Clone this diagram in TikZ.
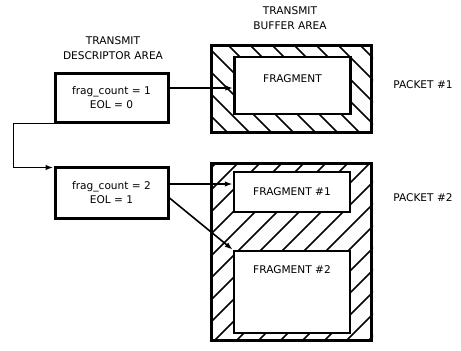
\documentclass[tikz,border=0pt]{standalone}
\usepackage{fontspec}
\setmainfont{DejaVu Sans}
\usetikzlibrary{arrows.meta}
\tikzset{
  every node/.style={font=\fontsize{10.6}{14}\selectfont},
  desc/.style={draw, line width=3pt, minimum width=113pt, minimum height=49pt,
    align=center},
  buffer/.style={draw, line width=3pt, minimum width=160pt},
  frag/.style={draw, line width=2.5pt, fill=white, minimum width=116pt},
  hatchline/.style={line width=1.5pt},
  arr/.style={line width=1.6pt, -{Latex[length=8pt,width=5.5pt]}},
  heading/.style={align=center, font=\fontsize{10.6}{15}\selectfont}
}
\begin{document}
\begin{tikzpicture}[x=1pt, y=-1pt]
    \useasboundingbox (0,0) rectangle (461,351);

    % headings
    \node[heading] (desctitle) at (113,48.5) {TRANSMIT\\DESCRIPTOR AREA};
    \node[heading] (buftitle) at (290,18.5) {TRANSMIT\\BUFFER AREA};

    % descriptor area
    \node[desc] (desc1) at (111.5,97.5) {frag\_count = 1\\EOL = 0};
    \node[desc, minimum height=51pt] (desc2) at (111.5,192.5) {frag\_count = 2\\EOL = 1};

    % buffer of packet 1
    \node[buffer, minimum height=87pt] (buf1) at (291.5,88.5) {};
    \begin{scope}
        \clip (buf1.north west) rectangle (buf1.south east);
        \foreach \d in {118,140,...,372}
            \draw[hatchline] (\d,45) -- ++(100,100);
    \end{scope}
    \node[frag, minimum height=57pt] (frag11) at (292.5,85.5) {};
    \node (frag11txt) at (292.5,79) {FRAGMENT};

    % buffer of packet 2
    \node[buffer, minimum height=177pt] (buf2) at (291.5,251.5) {};
    \begin{scope}
        \clip (buf2.north west) rectangle (buf2.south east);
        \foreach \d in {216,238,...,560}
            \draw[hatchline] (\d,163) -- ++(-200,200);
    \end{scope}
    \node[frag, minimum height=40pt] (frag21) at (292,192) {FRAGMENT \#1};
    \node[frag, minimum height=82pt] (frag22) at (292,292) {};
    \node (frag22txt) at (292,270) {FRAGMENT \#2};

    % packet labels
    \node (pkt1) at (423,85) {PACKET \#1};
    \node (pkt2) at (423,198) {PACKET \#2};

    % pointers
    \coordinate (p1) at ([yshift=9.5pt]desc1.east);
    \draw[arr] (p1) -- (p1 -| frag11.west);
    \coordinate (p2) at ([yshift=8.5pt]desc2.east);
    \draw[arr] (p2) -- (p2 -| frag21.west);
    \coordinate (p3) at ([yshift=-5.5pt]desc2.east);
    \draw[arr] (p3) -- (frag22.north west);
    \coordinate (p4) at ([yshift=-2pt]desc2.north west);
    \draw[arr] (desc1.south west) -- ++(-40,0) |- (p4);
\end{tikzpicture}
\end{document}
